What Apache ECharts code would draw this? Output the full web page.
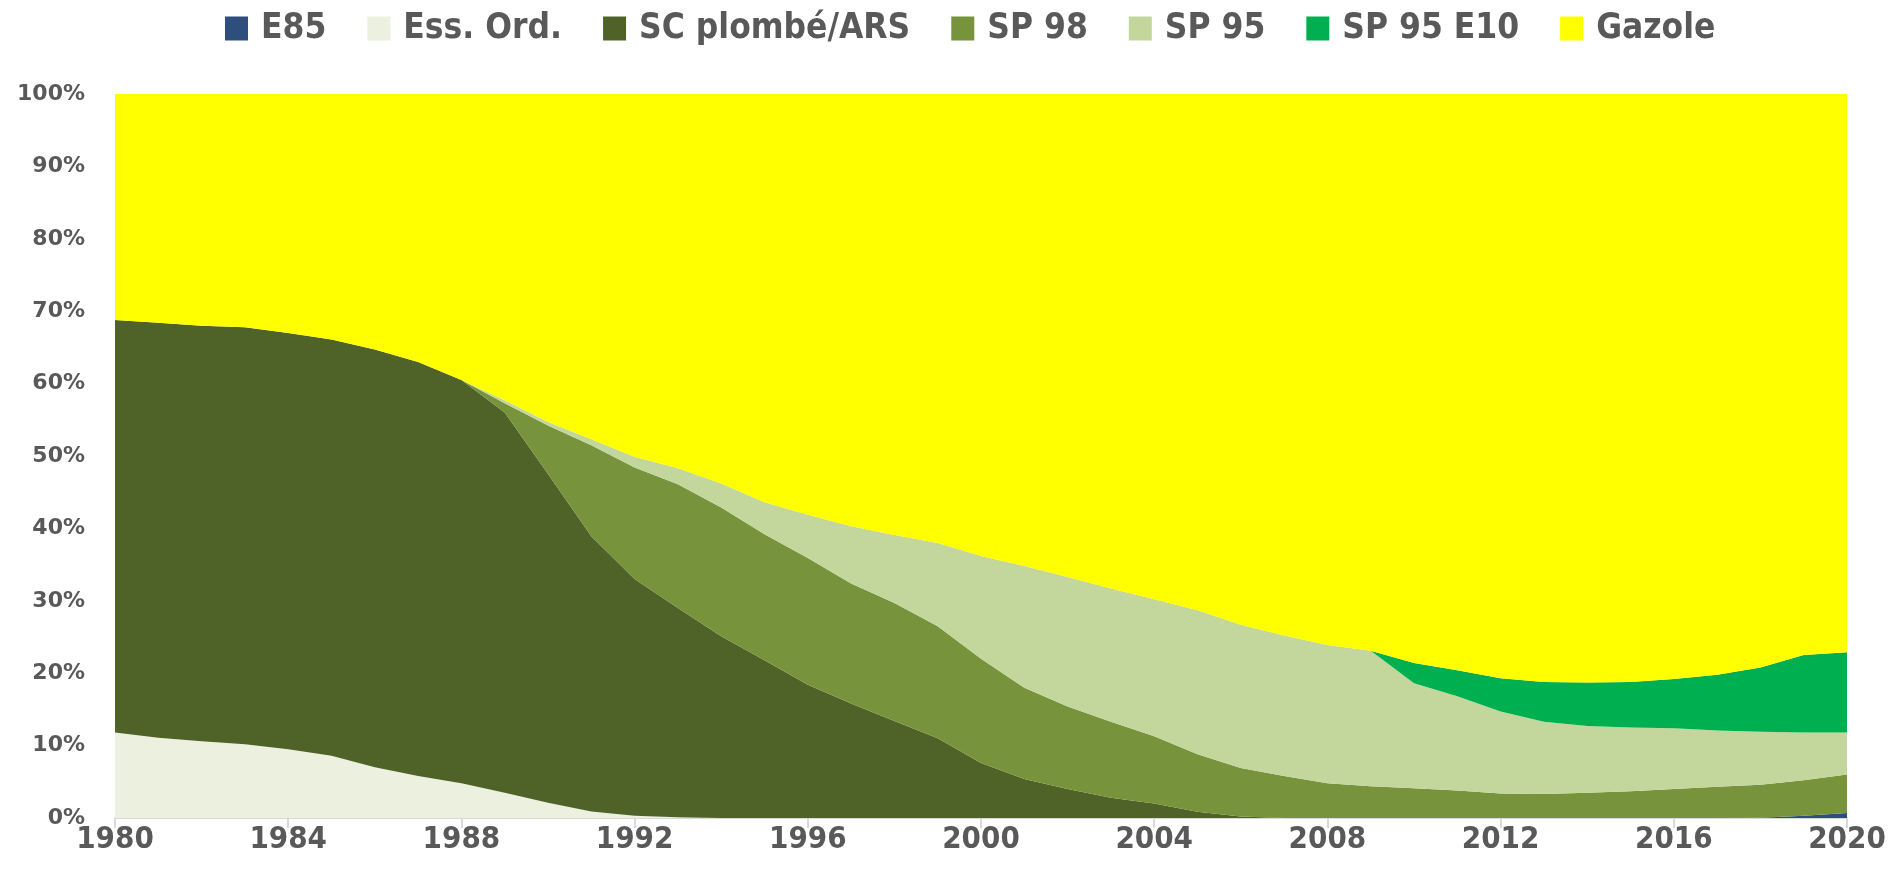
<!DOCTYPE html>
<html>
<head>
<meta charset="utf-8">
<title>Carburants</title>
<script src="https://cdn.jsdelivr.net/npm/echarts@6/dist/echarts.min.js"></script>
<style>
    html, body { margin: 0; padding: 0; background: #fff; }
    #chart { width: 1893px; height: 881px; }
</style>
</head>
<body>
<div id="chart"></div>
<script>
// années
const years = ['1980','1981','1982','1983','1984','1985','1986','1987','1988','1989',
    '1990','1991','1992','1993','1994','1995','1996','1997','1998','1999',
    '2000','2001','2002','2003','2004','2005','2006','2007','2008','2009',
    '2010','2011','2012','2013','2014','2015','2016','2017','2018','2019','2020']

// parts de marché (%)
const e85 = [0,0,0,0,0,0,0,0,0,0, 0,0,0,0,0,0,0,0,0,0, 0,0,0,0,0,0,0,0,0,0, 0,0,0,0,0,0,0,0,0.05,0.3,0.7]
const essOrd = [11.8,11.1,10.6,10.2,9.5,8.6,7.0,5.8,4.8,3.5, 2.1,0.9,0.3,0.1,0,0,0,0,0,0, 0,0,0,0,0,0,0,0,0,0, 0,0,0,0,0,0,0,0,0,0,0]
const scPlombe = [57.0,57.3,57.4,57.6,57.5,57.5,57.7,57.2,55.7,52.5, 45.4,38.0,32.7,28.9,25.1,21.8,18.4,15.8,13.4,11.0, 7.6,5.4,4.0,2.8,2.0,0.85,0.2,0,0,0, 0,0,0,0,0,0,0,0,0,0,0]
const sp98 = [0,0,0,0,0,0,0,0,0,1.3, 6.7,12.6,15.4,17.1,17.8,17.4,17.5,16.6,16.3,15.5, 14.4,12.6,11.4,10.5,9.3,7.95,6.7,5.8,4.8,4.4, 4.1,3.8,3.4,3.3,3.5,3.7,4.0,4.3,4.55,4.9,5.3]
const sp95 = [0,0,0,0,0,0,0,0,0,0.4, 0.5,0.8,1.5,2.2,3.3,4.4,6.0,7.9,9.4,11.5, 14.2,16.8,17.9,18.4,18.9,19.9,19.8,19.4,19.1,18.7, 14.5,13.0,11.3,10.0,9.2,8.8,8.4,7.8,7.3,6.6,5.8]
const sp95e10 = [0,0,0,0,0,0,0,0,0,0, 0,0,0,0,0,0,0,0,0,0, 0,0,0,0,0,0,0,0,0,0, 2.8,3.6,4.6,5.5,6.0,6.3,6.8,7.7,8.9,10.7,11.1]
const gazole = [31.2,31.6,32.0,32.2,33.0,33.9,35.3,37.0,39.5,42.3, 45.3,47.7,50.1,51.7,53.8,56.4,58.1,59.7,60.9,62.0, 63.8,65.2,66.7,68.3,69.8,71.3,73.3,74.8,76.1,76.9, 78.6,79.6,80.7,81.2,81.3,81.2,80.8,80.2,79.2,77.5,77.1]

const yTicks = [0,10,20,30,40,50,60,70,80,90,100]

let chart = echarts.init(document.getElementById('chart'))

function serie(name, data, color){
    return {
        name: name,
        type: 'line',
        stack: 'total',
        data: data,
        symbol: 'none',
        lineStyle: { width: 0 },
        areaStyle: { color: color, opacity: 1 },
        itemStyle: { color: color },
        emphasis: { disabled: true }
    }
}

const txt = '#595959'
const narrow = '"DejaVu Sans Condensed", "Liberation Sans Narrow", "DejaVu Sans", sans-serif'

chart.setOption({
    animation: false,
    legend: {
        top: 6,
        left: 220,
        icon: 'rect',
        itemWidth: 23,
        itemHeight: 24,
        itemGap: 41,
        textStyle: { color: txt, fontSize: 35, fontWeight: 'bold', fontFamily: narrow, padding: [0, 0, 0, 8] },
        data: ['E85','Ess. Ord.','SC plombé/ARS','SP 98','SP 95','SP 95 E10','Gazole']
    },
    grid: { left: 115, right: 46, top: 94, bottom: 63 },
    xAxis: {
        type: 'category',
        boundaryGap: false,
        data: years,
        axisLine: { lineStyle: { color: '#d9d9d9', width: 2 } },
        axisTick: { interval: 3, length: 10, lineStyle: { color: '#d9d9d9', width: 2 } },
        axisLabel: { interval: 3, margin: 6, color: txt, fontSize: 31, fontWeight: 'bold', fontFamily: narrow }
    },
    yAxis: {
        type: 'value',
        min: yTicks[0],
        max: yTicks[yTicks.length - 1],
        interval: 10,
        axisLine: { show: false },
        axisTick: { show: false },
        splitLine: { show: false },
        axisLabel: { formatter: '{value}%', margin: 30, color: txt, fontSize: 22, fontWeight: 'bold', fontFamily: 'DejaVu Sans' }
    },
    series: [
        serie('E85', e85, '#2E4F7E'),
        serie('Ess. Ord.', essOrd, '#EBF1DE'),
        serie('SC plombé/ARS', scPlombe, '#4F6228'),
        serie('SP 98', sp98, '#77933C'),
        serie('SP 95', sp95, '#C3D69B'),
        serie('SP 95 E10', sp95e10, '#00B050'),
        serie('Gazole', gazole, '#FFFF00')
    ]
})
</script>
</body>
</html>
